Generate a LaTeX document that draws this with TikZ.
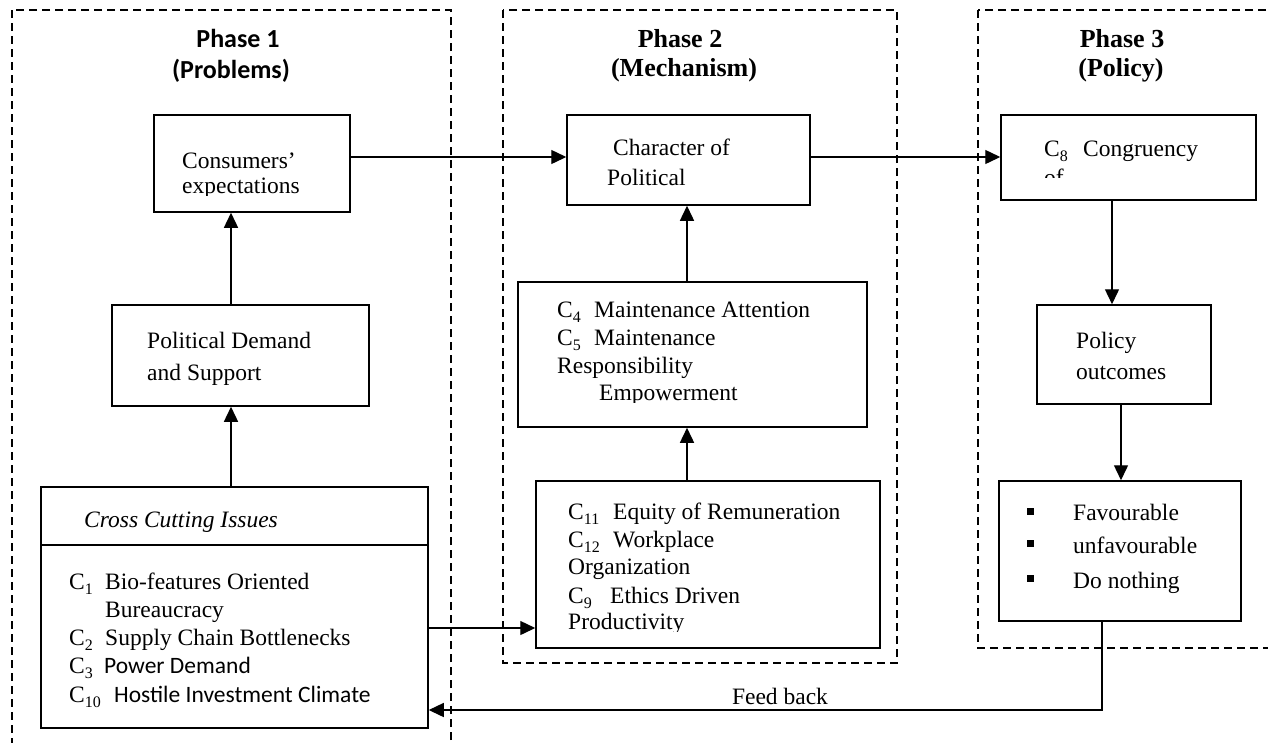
\documentclass[tikz,border=0pt]{standalone}
\usepackage{fontspec}
\setmainfont{Liberation Serif}
\newfontfamily\calibri{Carlito}
\usetikzlibrary{arrows.meta}
\newcommand\fs{\fontsize{23.5}{28}\selectfont}
\newcommand\hd{\fontsize{26}{30}\selectfont\bfseries}
\newcommand\crit[2]{\makebox[#1pt][l]{C\raisebox{-5pt}{\fontsize{16}{16}\selectfont #2}}}

\begin{document}
\begin{tikzpicture}[x=1pt,y=-1pt,
  frame/.style={draw,line width=1.2pt,dash pattern=on 8pt off 5pt},
  box/.style={draw,line width=1.5pt,inner sep=0pt},
  txt/.style={anchor=base west,inner sep=0pt,font=\fs},
  head/.style={anchor=base,inner sep=0pt,font=\hd},
  link/.style={-{Triangle[length=15pt,width=14pt]},line width=1.4pt},
  bullet/.style={fill,inner sep=0pt,minimum size=7pt}]
\clip (0,0) rectangle (1268,742);
% phase frames
\draw[frame] (12,10) rectangle (451,760);
\draw[frame] (503,10) rectangle (897,663);
\draw[frame] (978,10) rectangle (1290,648);

% headers
\node[head,font=\calibri\hd] (p1) at (238,47) {Phase 1};
\node[head,font=\calibri\hd] (p1b) at (231,78) {(Problems)};
\node[head] (p2) at (680,47) {Phase 2};
\node[head] (p2b) at (684,76) {(Mechanism)};
\node[head] (p3) at (1122,47) {Phase 3};
\node[head] (p3b) at (1121,76) {(Policy)};

% boxes
\node[box,minimum width=196pt,minimum height=97pt] (cons) at (252,163.5) {};
\node[box,minimum width=243pt,minimum height=90pt] (char) at (688.5,160) {};
\node[box,minimum width=255pt,minimum height=85pt] (cong) at (1128.5,157.5) {};
\node[box,minimum width=257pt,minimum height=101pt] (demand) at (240.5,355.5) {};
\node[box,minimum width=387pt,minimum height=241pt] (cross) at (234.5,607.5) {};
\node[box,minimum width=349pt,minimum height=145pt] (mid) at (692.5,354.5) {};
\node[box,minimum width=344pt,minimum height=167pt] (lower) at (708,564.5) {};
\node[box,minimum width=174pt,minimum height=99pt] (pol) at (1124,354.5) {};
\node[box,minimum width=242pt,minimum height=140pt] (fav) at (1120,551) {};
\coordinate (split) at (0,545);
\draw[line width=1.5pt] (cross.west |- split) -- (cross.east |- split);

% box texts
\begin{scope}
  \clip (cons.north west) rectangle (350,195);
  \node[txt] (cons1) at (182,168) {Consumers'};
  \node[txt] (cons2) at (182,193) {expectations};
\end{scope}
\node[txt] (char1) at (613,155) {Character of};
\node[txt] (char2) at (607,185) {Political};
\begin{scope}
  \clip (cong.north west) rectangle (1256,177);
  \node[txt] (cong1) at (1044,156) {\crit{39}{8}Congruency};
  \node[txt] (cong2) at (1044,185) {of};
\end{scope}
\node[txt] (dem1) at (147,348) {Political Demand};
\node[txt] (dem2) at (147,380) {and Support};
\node[txt] (cross0) at (84,527) {\textit{Cross Cutting Issues}};
\foreach \x/\y/\t [count=\i] in {69/589/{\crit{36}{1}Bio-features Oriented},
    105/617/{Bureaucracy}, 69/645/{\crit{36}{2}Supply Chain Bottlenecks},
    69/673/{\crit{35}{3}{\calibri Power Demand}},
    69/702/{\crit{45}{10}{\calibri Hostile Investment Climate}}}
  \node[txt] (cross\i) at (\x,\y) {\t};
\begin{scope}
  \clip (mid.north west) rectangle (867,402);
  \foreach \x/\y/\t [count=\i] in {557/317/{\crit{37}{4}Maintenance Attention},
      557/345/{\crit{37}{5}Maintenance}, 557/373/{Responsibility},
      599/400/{Empowerment}}
    \node[txt] (mid\i) at (\x,\y) {\t};
\end{scope}
\begin{scope}
  \clip (lower.north west) rectangle (880,631);
  \foreach \x/\y/\t [count=\i] in {568/519/{\crit{45}{11}Equity of Remuneration},
      568/547/{\crit{45}{12}Workplace}, 568/574/{Organization},
      568/603/{\crit{42}{9}Ethics Driven}, 568/629/{Productivity}}
    \node[txt] (low\i) at (\x,\y) {\t};
\end{scope}
\node[txt] (pol1) at (1076,348) {Policy};
\node[txt] (pol2) at (1076,379) {outcomes};
\foreach \y/\b/\t [count=\i] in {520/511/Favourable, 553/543/unfavourable, 588/578/Do nothing} {
  \node[bullet] (bul\i) at (1030,\b) {};
  \node[txt] (fav\i) at (1073,\y) {\t};
}

% connectors
\coordinate (colA) at (231,0);
\coordinate (colB) at (687,0);
\coordinate (colC) at (1112,0);
\coordinate (colD) at (1121,0);
\coordinate (rowA) at (0,157);
\coordinate (rowB) at (0,628);
\coordinate (fb) at (1102,710);
\draw[link] (cross.north -| colA) -- (demand.south -| colA);
\draw[link] (demand.north -| colA) -- (cons.south -| colA);
\draw[link] (cons.east |- rowA) -- (char.west |- rowA);
\draw[link] (char.east |- rowA) -- (cong.west |- rowA);
\draw[link] (lower.north -| colB) -- (mid.south -| colB);
\draw[link] (mid.north -| colB) -- (char.south -| colB);
\draw[link] (cross.east |- rowB) -- (lower.west |- rowB);
\draw[link] (cong.south -| colC) -- (pol.north -| colC);
\draw[link] (pol.south -| colD) -- (fav.north -| colD);
\draw[link] (fav.south -| fb) -- (fb) -- (cross.east |- fb);
\node[anchor=base,inner sep=0pt,font=\fs] (fblabel) at (780,704) {Feed back};
\end{tikzpicture}
\end{document}
